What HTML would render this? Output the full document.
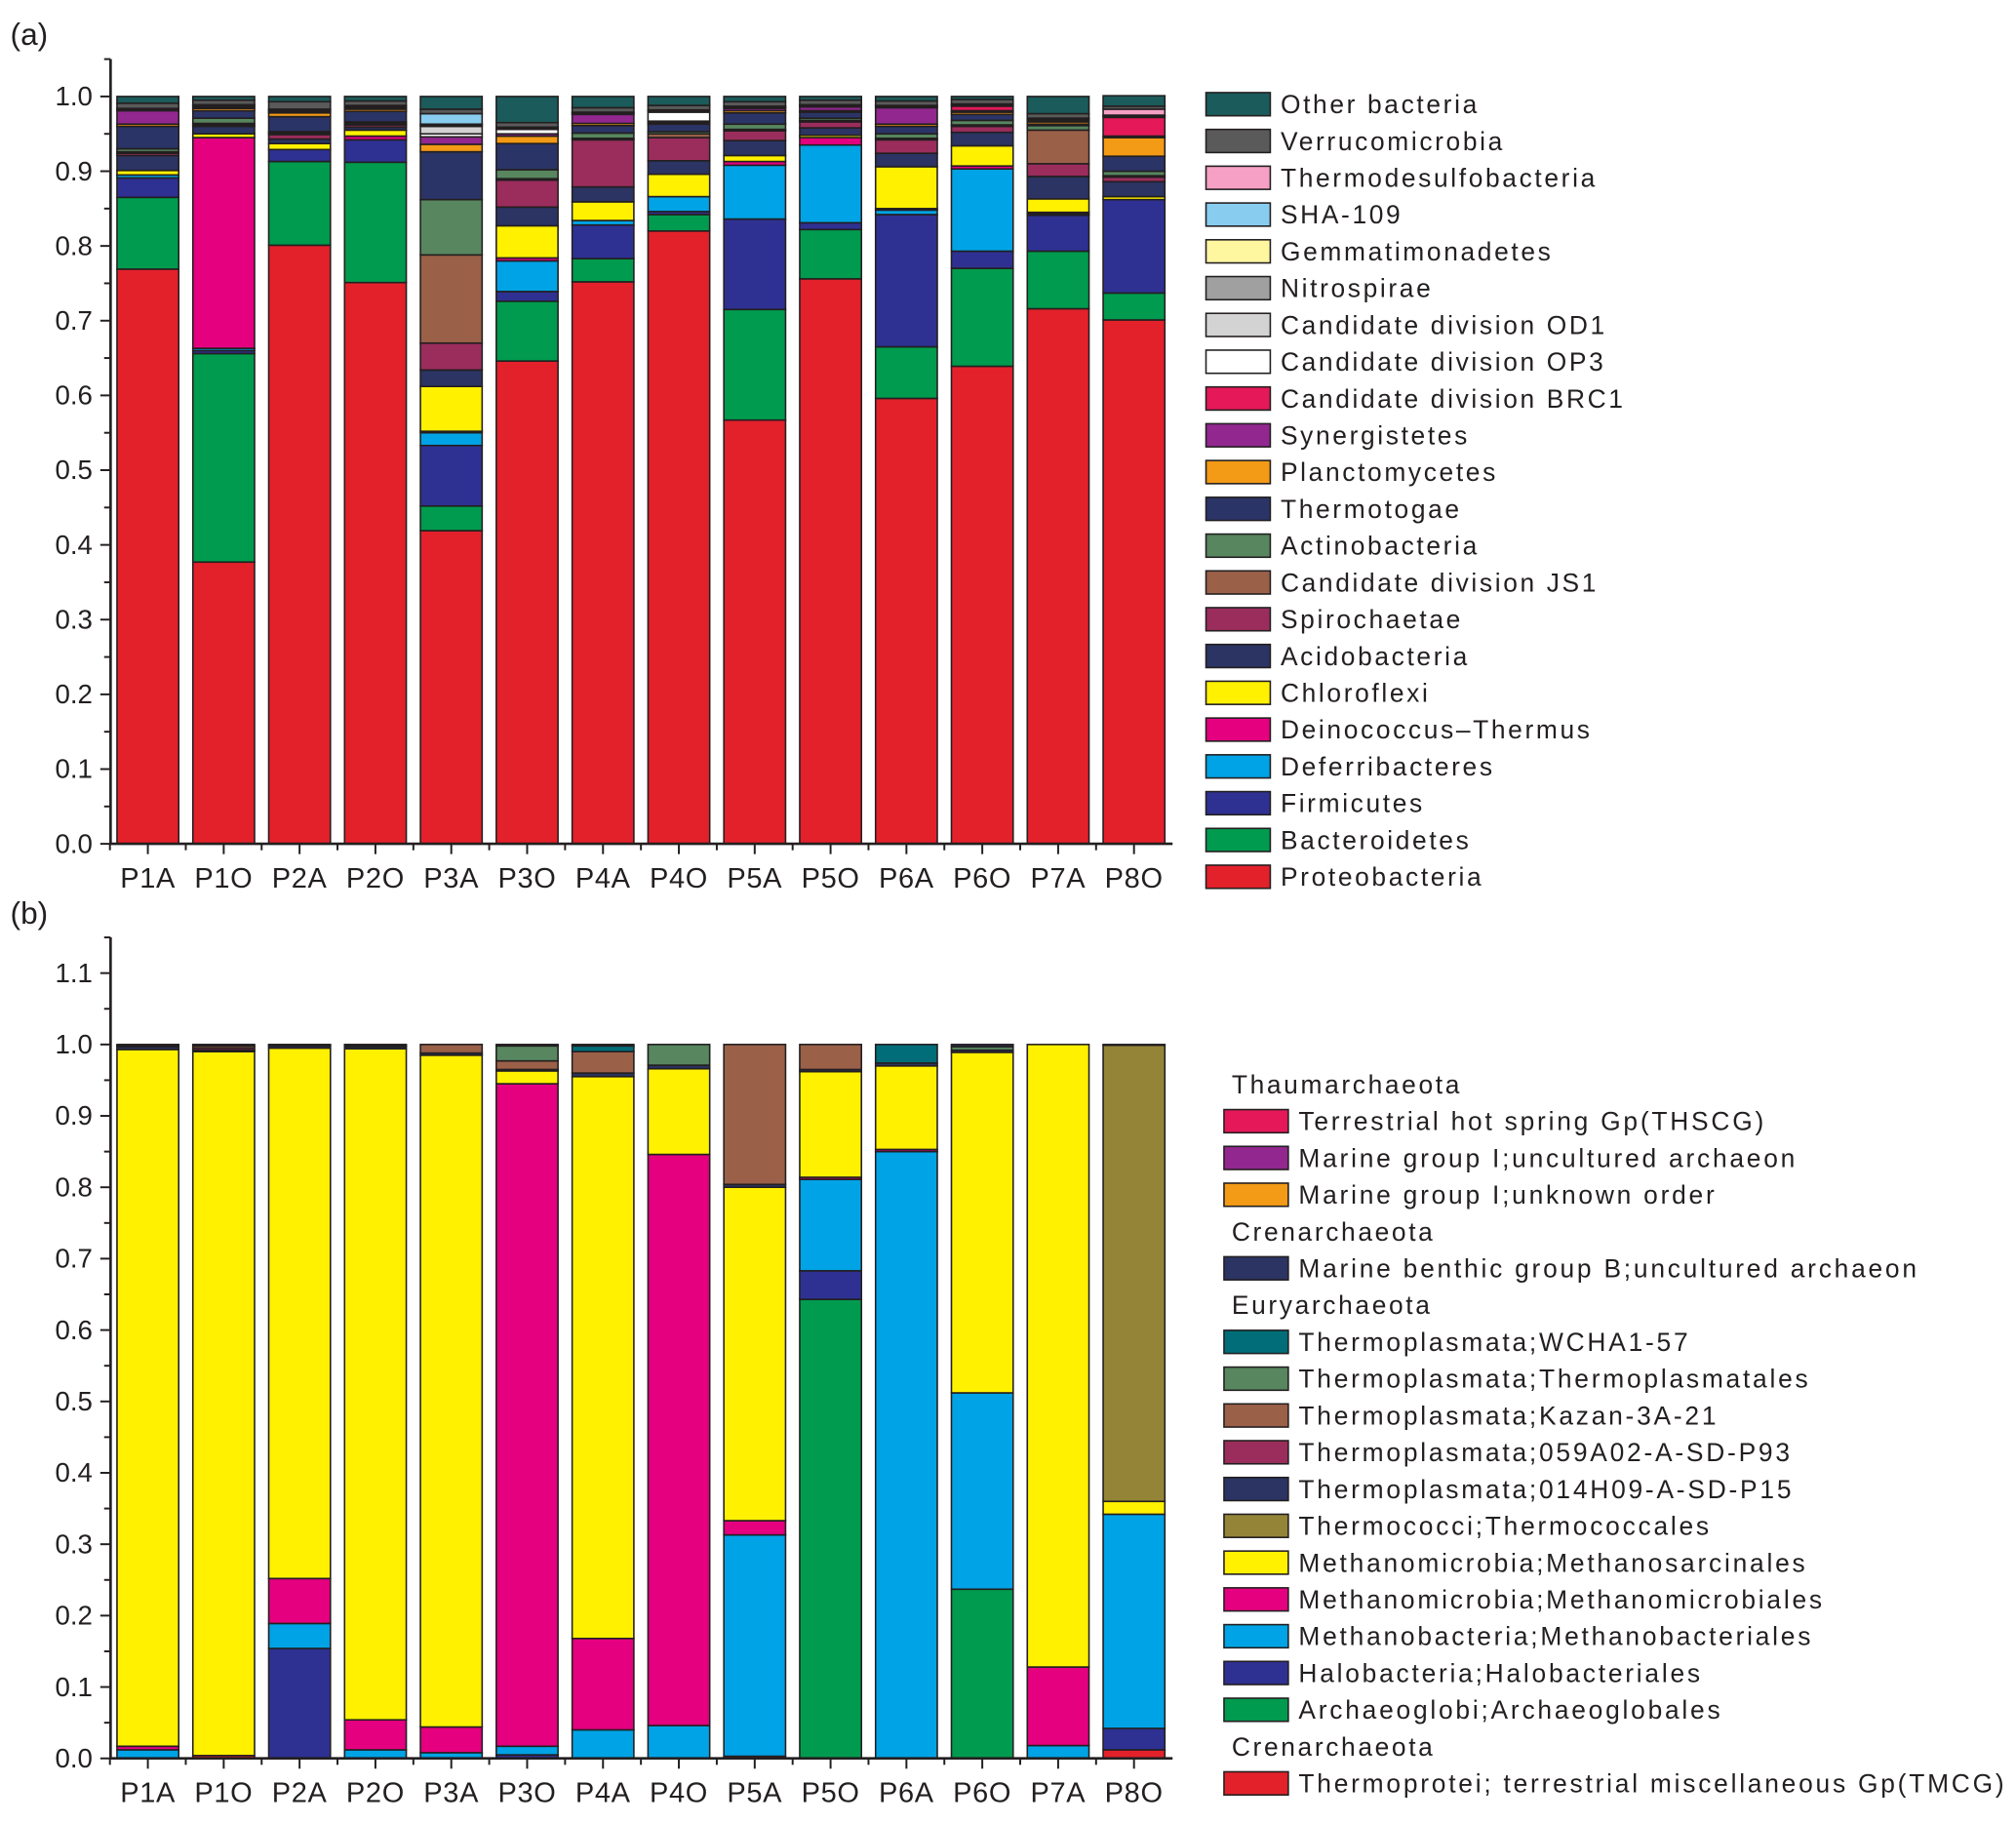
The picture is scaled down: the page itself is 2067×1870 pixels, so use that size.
<!DOCTYPE html>
<html><head><meta charset="utf-8"><style>
html,body{margin:0;padding:0;background:#fff}
svg{display:block}
text{font-family:"Liberation Sans",Arial,sans-serif;fill:#231f20}
</style></head>
<body>
<svg id="fig" width="2067" height="1870" viewBox="0 0 1568 1418" preserveAspectRatio="none" xmlns="http://www.w3.org/2000/svg">
<text x="8" y="35" font-size="24">(a)</text>
<text x="8" y="718" font-size="24">(b)</text>
<g id="ga"></g>
<g id="gb"></g>
</svg>
<script>
const samples=["P1A","P1O","P2A","P2O","P3A","P3O","P4A","P4O","P5A","P5O","P6A","P6O","P7A","P8O"];
// Chart A (bacteria) series, bottom to top
const aNames=["Proteobacteria","Bacteroidetes","Firmicutes","Deferribacteres","Deinococcus–Thermus","Chloroflexi","Acidobacteria","Spirochaetae","Candidate division JS1","Actinobacteria","Thermotogae","Planctomycetes","Synergistetes","Candidate division BRC1","Candidate division OP3","Candidate division OD1","Nitrospirae","Gemmatimonadetes","SHA-109","Thermodesulfobacteria","Verrucomicrobia","Other bacteria"];
const aColors=["#e3212b","#009b4e","#2e3192","#00a3e5","#e4007f","#fff100","#2b3462","#9b2d5c","#9b6048","#57865f","#2b3466","#f39a16","#92278f","#e5195a","#ffffff","#d3d3d3","#a0a0a0","#fff6a0","#88cdf0","#f5a0c4","#5a5a5a","#1b5b5b"];
const proteo=[.769,.377,.801,.751,.419,.646,.752,.820,.567,.756,.596,.639,.716,.701];
const bacter=[.096,.279,.112,.161,.033,.080,.031,.022,.148,.066,.069,.131,.077,.036];
const firmic=[.026,.004,.016,.030,.081,.013,.045,.004,.121,.009,.177,.023,.048,.125];
const deferr=[.004,.003,0,0,.017,.041,.006,.020,.072,.104,.006,.110,.002,0];
const deinoc=[0,.282,0,.005,.002,.004,0,0,.005,.010,.002,.004,.002,0];
const chloro=[.006,.005,.008,.008,.060,.043,.025,.030,.008,.003,.056,.027,.018,.004];
const acido=[.020,.010,.006,.004,.022,.025,.020,.018,.020,.010,.018,.018,.030,.020];
const spiro=[.003,.002,.006,.003,.036,.036,.063,.031,.013,.008,.018,.008,.017,.006];
const js1=[.002,.002,.002,.002,.118,.002,.002,.005,.002,.002,.002,.002,.045,.002];
const actino=[.004,.007,.002,.002,.074,.012,.007,.003,.007,.003,.006,.006,.006,.006];
const thermot=[.030,.010,.020,.014,.064,.035,.010,.010,.015,.008,.010,.008,.002,.020];
const plancto=[.003,.003,.005,.003,.010,.010,.003,.002,.003,.002,.003,.003,.003,.025];
const synerg=[.018,.002,.002,.002,.010,.003,.012,.002,.003,.005,.022,.002,.002,.002];
const brc1=[0,0,0,0,0,0,0,0,0,0,0,.006,0,.025];
const op3=[0,0,0,0,.004,.006,0,.012,0,0,0,0,0,0];
const od1=[0,0,0,0,.010,0,0,0,0,0,0,0,0,0];
const nitro=[.002,.002,.002,.002,.002,.002,.002,.002,.002,.002,.002,.002,.002,.002];
const gemma=[.001,.001,.001,.001,.001,.001,.001,.001,.001,.001,.001,.001,.001,.001];
const sha109=[0,0,0,0,.014,0,0,0,0,0,0,0,0,0];
const thermodes=[0,0,0,0,0,0,0,0,0,0,0,0,0,.008];
const verruco=[.007,.006,.010,.006,.006,.006,.006,.006,.006,.006,.006,.006,.006,.004];
const otherBact=[.009,.005,.007,.006,.017,.035,.015,.012,.007,.005,.006,.004,.023,.014];
const aSeries=[proteo,bacter,firmic,deferr,deinoc,chloro,acido,spiro,js1,actino,thermot,plancto,synerg,brc1,op3,od1,nitro,gemma,sha109,thermodes,verruco,otherBact];
const aTicks=["0.0","0.1","0.2","0.3","0.4","0.5","0.6","0.7","0.8","0.9","1.0"];

// Chart B (archaea) series, bottom to top
const bNames=["Thermoprotei; terrestrial miscellaneous Gp(TMCG)","Archaeoglobi;Archaeoglobales","Halobacteria;Halobacteriales","Methanobacteria;Methanobacteriales","Methanomicrobia;Methanomicrobiales","Methanomicrobia;Methanosarcinales","Thermococci;Thermococcales","Thermoplasmata;014H09-A-SD-P15","Thermoplasmata;059A02-A-SD-P93","Thermoplasmata;Kazan-3A-21","Thermoplasmata;Thermoplasmatales","Thermoplasmata;WCHA1-57","Marine benthic group B;uncultured archaeon","Marine group I;unknown order","Marine group I;uncultured archaeon","Terrestrial hot spring Gp(THSCG)"];
const bColors=["#e3212b","#009b4e","#2e3192","#00a3e5","#e4007f","#fff100","#948437","#2b3462","#9b2d5c","#9b6048","#57865f","#006d78","#2b3462","#f39a16","#92278f","#e5195a"];
const tmcg=[0,.004,0,0,0,0,0,0,.003,0,0,0,0,.012];
const archaeo=[0,0,0,0,0,0,0,0,0,.643,0,.237,0,0];
const halo=[0,0,.154,0,0,.005,0,0,0,.040,0,0,0,.030];
const mbact=[.012,0,.035,.012,.008,.012,.040,.046,.310,.128,.850,.275,.018,.300];
const mmicro=[.005,0,.063,.042,.036,.928,.128,.800,.020,.003,.003,0,.110,0];
const msarc=[.976,.986,.743,.940,.941,.018,.787,.120,.467,.148,.117,.477,.872,.018];
const thermococ=[0,0,0,0,0,0,0,0,0,0,0,0,0,.639];
const p15=[.004,.002,.003,.003,.003,.002,.005,.005,.004,.003,.004,.003,0,0];
const p93=[0,.003,0,0,0,0,0,0,0,0,0,0,0,0];
const kazan=[.001,.003,.001,.002,.012,.012,.030,0,.196,.035,0,0,0,0];
const thermopl=[0,0,0,0,0,.021,0,.029,0,0,0,.005,0,0];
const wcha=[0,0,0,0,0,0,.008,0,0,0,.026,0,0,0];
const mbgb=[.002,.002,.001,.001,0,.002,.002,0,0,0,0,.003,0,.001];
const mgUnknown=[0,0,0,0,0,0,0,0,0,0,0,0,0,0];
const mgUncult=[0,0,0,0,0,0,0,0,0,0,0,0,0,0];
const thscg=[0,0,0,0,0,0,0,0,0,0,0,0,0,0];
const bSeries=[tmcg,archaeo,halo,mbact,mmicro,msarc,thermococ,p15,p93,kazan,thermopl,wcha,mbgb,mgUnknown,mgUncult,thscg];
const bTicks=["0.0","0.1","0.2","0.3","0.4","0.5","0.6","0.7","0.8","0.9","1.0","1.1"];

const NS="http://www.w3.org/2000/svg";
function mk(parent,tag,attrs){const e=document.createElementNS(NS,tag);for(const k in attrs)e.setAttribute(k,attrs[k]);parent.appendChild(e);return e;}

function drawChart(g,series,colors,names,ticks,y0,pxPerUnit,axisTopVal,prefix){
  const xAxis=86, xEnd=912, x0c=115, step=59, bw=48;
  const xScale=i=>x0c+i*step;
  const yScale=v=>y0-v*pxPerUnit;
  for(let i=0;i<samples.length;i++){
    let cum=0;
    for(let s=0;s<series.length;s++){
      const v=series[s][i]; if(!(v>0)) continue;
      const r=mk(g,"rect",{x:xScale(i)-bw/2,y:yScale(cum+v),width:bw,height:v*pxPerUnit,fill:colors[s],stroke:"#231f20","stroke-width":1.2});
      
      
      cum+=v;
    }
  }
  const ya=mk(g,"line",{x1:xAxis,y1:yScale(axisTopVal),x2:xAxis,y2:y0,stroke:"#231f20","stroke-width":2});
  
  
  const xa=mk(g,"line",{x1:xAxis,y1:y0,x2:xEnd,y2:y0,stroke:"#231f20","stroke-width":2});
  
  
  for(let t=0;t<ticks.length;t++){
    const v=parseFloat(ticks[t]);
    mk(g,"line",{x1:xAxis-8,y1:yScale(v),x2:xAxis,y2:yScale(v),stroke:"#231f20","stroke-width":1.5});
    if(t<ticks.length-1||axisTopVal>v+0.04) mk(g,"line",{x1:xAxis-5,y1:yScale(v+0.05),x2:xAxis,y2:yScale(v+0.05),stroke:"#231f20","stroke-width":1.5});
    const tx=mk(g,"text",{x:xAxis-14,y:yScale(v)+7,"font-size":21,"text-anchor":"end"});
    tx.textContent=ticks[t];
    
    
  }
  for(let i=0;i<samples.length;i++){
    mk(g,"line",{x1:xScale(i),y1:y0,x2:xScale(i),y2:y0+8,stroke:"#231f20","stroke-width":1.5});
    mk(g,"line",{x1:xScale(i)-step/2,y1:y0,x2:xScale(i)-step/2,y2:y0+5,stroke:"#231f20","stroke-width":1.5});
    const tx=mk(g,"text",{x:xScale(i),y:y0+34,"font-size":22,"text-anchor":"middle","letter-spacing":0.5});
    tx.textContent=samples[i];
    
    
  }
}
const ga=document.getElementById("ga"), gb=document.getElementById("gb");
drawChart(ga,aSeries,aColors,aNames,aTicks,656,581,1.05,"a");
drawChart(gb,bSeries,bColors,bNames,bTicks,1367,555,1.15,"b");

// Legend A (top to bottom: reverse order)
for(let k=0;k<aNames.length;k++){
  const s=aNames.length-1-k, y=81+k*28.6;
  const r=mk(ga,"rect",{x:938,y:y-9,width:50,height:18,fill:aColors[s],stroke:"#231f20","stroke-width":1.2});
  
  
  const t=mk(ga,"text",{x:996,y:y+7,"font-size":20,"letter-spacing":2});
  t.textContent=aNames[s];
  
  
}
// Legend B
const bLegend=[["h","Thaumarchaeota"],[15],[14],[13],["h","Crenarchaeota"],[12],["h","Euryarchaeota"],[11],[10],[9],[8],[7],[6],[5],[4],[3],[2],[1],["h","Crenarchaeota"],[0]];
for(let k=0;k<bLegend.length;k++){
  const y=843+k*28.6, it=bLegend[k];
  if(it[0]==="h"){
    const t=mk(gb,"text",{x:958,y:y+7,"font-size":20,"letter-spacing":2});
    t.textContent=it[1];
    
    
  } else {
    const s=it[0];
    const r=mk(gb,"rect",{x:952,y:y-9,width:50,height:18,fill:bColors[s],stroke:"#231f20","stroke-width":1.2});
    
    
    const t=mk(gb,"text",{x:1010,y:y+7,"font-size":20,"letter-spacing":2.1});
    t.textContent=bNames[s];
    
    
  }
}
</script>
</body></html>
